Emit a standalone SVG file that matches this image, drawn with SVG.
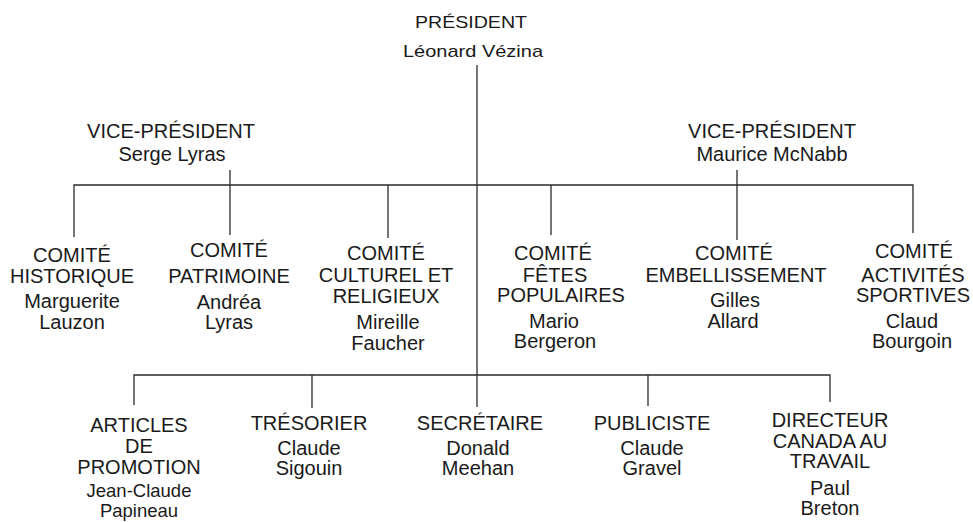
<svg xmlns="http://www.w3.org/2000/svg" width="973" height="522" viewBox="0 0 973 522">
<style>
.t{font-family:"Liberation Sans",Arial,sans-serif;font-size:20px;fill:#1a1a1a;text-anchor:middle}
.s{font-size:17px}
.n{font-size:18.5px}
.c{stroke:#2a2a2a;stroke-width:1.3;fill:none}
</style>
<rect width="973" height="522" fill="#fff"/>
<g id="connectors" class="c">
<path d="M477 65V407"/>
<path d="M74 237V185H913V233"/>
<path d="M230 170V235"/>
<path d="M737 170V240"/>
<path d="M388 185V238"/>
<path d="M551 185V235"/>
<path d="M134 405V375H830V402"/>
<path d="M312 375V408"/>
<path d="M648 375V406"/>
</g>
<g id="president"><text class="t s" x="471" y="28" textLength="112" lengthAdjust="spacingAndGlyphs">PRÉSIDENT</text><text class="t s" x="473" y="57" textLength="140" lengthAdjust="spacingAndGlyphs">Léonard Vézina</text></g>
<g id="vp-lyras"><text class="t" x="171" y="138">VICE-PRÉSIDENT</text><text class="t" x="172" y="161">Serge Lyras</text></g>
<g id="vp-mcnabb"><text class="t" x="772" y="138">VICE-PRÉSIDENT</text><text class="t" x="772" y="161">Maurice McNabb</text></g>
<g id="historique"><text class="t" x="72" y="262">COMITÉ</text><text class="t" x="72" y="283">HISTORIQUE</text><text class="t" x="72" y="308">Marguerite</text><text class="t" x="72" y="329">Lauzon</text></g>
<g id="patrimoine"><text class="t" x="229" y="257">COMITÉ</text><text class="t" x="229" y="283">PATRIMOINE</text><text class="t" x="229" y="309">Andréa</text><text class="t" x="229" y="329">Lyras</text></g>
<g id="culturel"><text class="t" x="386" y="260">COMITÉ</text><text class="t" x="386" y="282">CULTUREL ET</text><text class="t" x="386" y="303">RELIGIEUX</text><text class="t" x="388" y="329">Mireille</text><text class="t" x="388" y="350">Faucher</text></g>
<g id="fetes"><text class="t" x="553" y="260">COMITÉ</text><text class="t" x="555" y="282">FÊTES</text><text class="t" x="561" y="302">POPULAIRES</text><text class="t" x="554" y="328">Mario</text><text class="t" x="555" y="348">Bergeron</text></g>
<g id="embellissement"><text class="t" x="734" y="260">COMITÉ</text><text class="t" x="736" y="282">EMBELLISSEMENT</text><text class="t" x="735" y="307">Gilles</text><text class="t" x="733" y="328">Allard</text></g>
<g id="activites"><text class="t" x="914" y="258">COMITÉ</text><text class="t" x="913" y="282">ACTIVITÉS</text><text class="t" x="913" y="302">SPORTIVES</text><text class="t" x="912" y="328">Claud</text><text class="t" x="912" y="348">Bourgoin</text></g>
<g id="articles"><text class="t" x="139" y="432">ARTICLES</text><text class="t" x="139" y="453">DE</text><text class="t" x="139" y="474">PROMOTION</text><text class="t n" x="139" y="497">Jean-Claude</text><text class="t n" x="139" y="517">Papineau</text></g>
<g id="tresorier"><text class="t" x="309" y="430">TRÉSORIER</text><text class="t" x="309" y="455">Claude</text><text class="t" x="309" y="475">Sigouin</text></g>
<g id="secretaire"><text class="t" x="480" y="430">SECRÉTAIRE</text><text class="t" x="478" y="455">Donald</text><text class="t" x="478" y="475">Meehan</text></g>
<g id="publiciste"><text class="t" x="652" y="430">PUBLICISTE</text><text class="t" x="652" y="455">Claude</text><text class="t" x="652" y="475">Gravel</text></g>
<g id="directeur"><text class="t" x="830" y="427">DIRECTEUR</text><text class="t" x="830" y="448">CANADA AU</text><text class="t" x="830" y="468">TRAVAIL</text><text class="t" x="830" y="495">Paul</text><text class="t" x="830" y="515">Breton</text></g>
</svg>
